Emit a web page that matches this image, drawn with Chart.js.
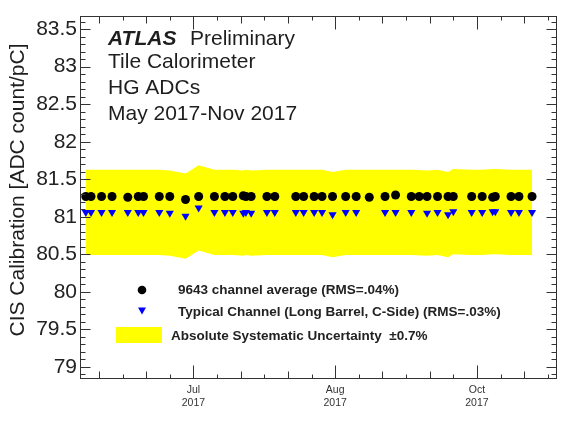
<!DOCTYPE html>
<html>
<head>
<meta charset="utf-8">
<script src="https://cdn.jsdelivr.net/npm/chart.js@4.4.1/dist/chart.umd.min.js"></script>
<style>
  html, body { margin: 0; padding: 0; background: #fff; }
  #wrap { width: 567px; height: 425px; }
</style>
</head>
<body>
<div id="wrap"><canvas id="cisChart" width="567" height="425"></canvas></div>
<script>
// days since 1 May 2017
const days = [20, 22, 26, 30, 36, 40, 42, 48, 52, 58, 63, 69, 73, 76, 80, 81, 83, 89, 92, 100,
  103, 107, 110, 114, 119, 123, 128, 134, 138, 144, 147, 150, 154, 158, 160, 167, 171, 175, 176, 182, 185, 190];

const channelAverage = [81.27, 81.27, 81.27, 81.27, 81.26, 81.27, 81.27, 81.27, 81.27, 81.23,
  81.27, 81.27, 81.27, 81.27, 81.28, 81.27, 81.27, 81.27, 81.27, 81.27,
  81.27, 81.27, 81.27, 81.27, 81.27, 81.27, 81.26, 81.27, 81.29, 81.27,
  81.27, 81.27, 81.27, 81.27, 81.27, 81.27, 81.27, 81.26, 81.27, 81.27, 81.27, 81.27];

const typicalChannel = [81.06, 81.06, 81.06, 81.06, 81.06, 81.06, 81.06, 81.06, 81.05, 81.01,
  81.12, 81.06, 81.06, 81.06, 81.05, 81.06, 81.05, 81.06, 81.06, 81.06,
  81.06, 81.06, 81.06, 81.03, 81.06, 81.06, null, 81.06, 81.06, 81.06,
  null, 81.05, 81.06, 81.03, 81.07, 81.06, 81.06, 81.07, 81.07, 81.06, 81.06, 81.06];

const systUncertainty = 0.007;

const yTickValues = [79, 79.5, 80, 80.5, 81, 81.5, 82, 82.5, 83, 83.5];
const xTickValues = [61, 115, 169];
const xTickLabels = [["Jul", "2017"], ["Aug", "2017"], ["Oct", "2017"]];

const FONT = "'Liberation Sans', Arial, Helvetica, sans-serif";

const pts = vals => days.map((d, i) => ({ x: d, y: vals[i] }));
const bandUp = pts(typicalChannel.map(v => v == null ? null : v * (1 + systUncertainty)));
const bandLo = pts(typicalChannel.map(v => v == null ? null : v * (1 - systUncertainty)));

const rootFrame = {
  id: "rootFrame",
  afterDatasetsDraw(chart) {
    const { ctx, chartArea: a, scales: { x, y } } = chart;
    ctx.save();
    ctx.strokeStyle = "#333";
    ctx.lineWidth = 1;
    const L = Math.round(a.left) + 0.5, R = Math.round(a.right) - 0.5;
    const T = Math.round(a.top) + 0.5, B = Math.round(a.bottom) - 0.5;
    ctx.strokeRect(L, T, R - L, B - T);
    ctx.beginPath();
    for (let k = 789; k <= 836; k++) {
      const py = Math.round(y.getPixelForValue(k / 10)) + 0.5;
      const len = k % 5 === 0 ? 10 : 5;
      ctx.moveTo(L, py); ctx.lineTo(L + len, py);
      ctx.moveTo(R, py); ctx.lineTo(R - len, py);
    }
    for (let k = -4; k <= 15; k++) {
      const d = xTickValues[0] + 9 * k;
      if (d < x.min || d > x.max) continue;
      const px = Math.round(x.getPixelForValue(d)) + 0.5;
      const len = k % 6 === 0 ? 13 : (k % 2 === 0 ? 7 : 4);
      ctx.moveTo(px, B); ctx.lineTo(px, B - len);
      ctx.moveTo(px, T); ctx.lineTo(px, T + len);
    }
    ctx.stroke();
    ctx.restore();
  },
  afterDraw(chart) {
    const { ctx } = chart;
    ctx.save();
    ctx.fillStyle = "#1e1e1e";
    ctx.textBaseline = "alphabetic";
    ctx.textAlign = "left";
    ctx.font = "italic bold 21px " + FONT;
    ctx.fillText("ATLAS", 108, 45);
    ctx.font = "21px " + FONT;
    ctx.fillText("Preliminary", 190, 45);
    ctx.fillText("Tile Calorimeter", 108, 67.5);
    ctx.fillText("HG ADCs", 108, 93.5);
    ctx.fillText("May 2017-Nov 2017", 108, 119.5);

    // y axis title
    ctx.save();
    ctx.translate(18, 190);
    ctx.rotate(-Math.PI / 2);
    ctx.textAlign = "center";
    ctx.textBaseline = "middle";
    ctx.font = "21px " + FONT;
    ctx.fillText("CIS Calibration [ADC count/pC]", 0, 0);
    ctx.restore();

    // legend
    ctx.fillStyle = "#000";
    ctx.beginPath();
    ctx.arc(142, 290, 4.3, 0, Math.PI * 2);
    ctx.fill();
    ctx.fillStyle = "#0000ff";
    ctx.beginPath();
    ctx.moveTo(138, 307.5); ctx.lineTo(146, 307.5); ctx.lineTo(142, 314.5);
    ctx.closePath();
    ctx.fill();
    ctx.fillStyle = "#ffff00";
    ctx.fillRect(116, 327, 46, 16);
    ctx.fillStyle = "#222";
    ctx.font = "bold 13.5px " + FONT;
    ctx.textBaseline = "middle";
    ctx.fillText("9643 channel average (RMS=.04%)", 178, 290);
    ctx.fillText("Typical Channel (Long Barrel, C-Side) (RMS=.03%)", 178, 312);
    ctx.fillText("Absolute Systematic Uncertainty  \u00B10.7%", 171, 336);
    ctx.restore();
  }
};

new Chart(document.getElementById("cisChart").getContext("2d"), {
  type: "scatter",
  data: {
    datasets: [
      {
        label: "band upper",
        data: bandUp,
        showLine: true,
        spanGaps: true,
        pointRadius: 0,
        borderWidth: 0,
        borderColor: "rgba(0,0,0,0)",
        backgroundColor: "#ffff00",
        fill: "+1",
        tension: 0,
        order: 3
      },
      {
        label: "band lower",
        data: bandLo,
        showLine: true,
        spanGaps: true,
        pointRadius: 0,
        borderWidth: 0,
        borderColor: "rgba(0,0,0,0)",
        fill: false,
        tension: 0,
        order: 3
      },
      {
        label: "9643 channel average (RMS=.04%)",
        data: pts(channelAverage),
        pointStyle: "circle",
        pointRadius: 4.5,
        pointBorderWidth: 0,
        pointBackgroundColor: "#000",
        order: 1
      },
      {
        label: "Typical Channel (Long Barrel, C-Side) (RMS=.03%)",
        data: pts(typicalChannel),
        pointStyle: "triangle",
        rotation: 180,
        pointRadius: 4.7,
        pointBorderWidth: 0,
        pointBackgroundColor: "#0000ff",
        order: 1
      }
    ]
  },
  options: {
    responsive: false,
    animation: false,
    events: [],
    layout: { padding: { top: 13, right: 10, left: 0, bottom: 0 } },
    plugins: {
      legend: { display: false },
      tooltip: { enabled: false },
      title: { display: false }
    },
    scales: {
      x: {
        type: "linear",
        min: 17.8,
        max: 199.5,
        grid: { display: false, drawTicks: false },
        border: { display: false },
        afterBuildTicks: s => { s.ticks = xTickValues.map(v => ({ value: v })); },
        afterFit: s => { s.height = 46; },
        ticks: {
          autoSkip: false,
          maxRotation: 0,
          padding: 5,
          color: "#333",
          font: { family: FONT, size: 10.5 },
          callback: (v, i) => xTickLabels[i]
        }
      },
      y: {
        min: 78.84,
        max: 83.68,
        grid: { display: false, drawTicks: false },
        border: { display: false },
        afterBuildTicks: s => { s.ticks = yTickValues.map(v => ({ value: v })); },
        afterFit: s => { s.width = 80; },
        ticks: {
          padding: 3,
          color: "#222",
          font: { family: FONT, size: 21 },
          callback: v => String(v)
        }
      }
    }
  },
  plugins: [rootFrame]
});
</script>
</body>
</html>
